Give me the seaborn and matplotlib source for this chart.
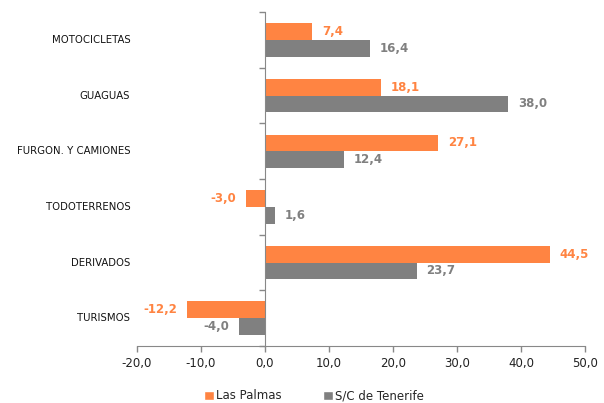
import pandas as pd
import matplotlib
matplotlib.use('Agg')
import matplotlib.pyplot as plt
from matplotlib.ticker import FuncFormatter, FixedLocator
from matplotlib.patches import Patch
import seaborn as sns

categories = ['MOTOCICLETAS', 'GUAGUAS', 'FURGON. Y CAMIONES',
              'TODOTERRENOS', 'DERIVADOS', 'TURISMOS']
las_palmas = [7.4, 18.1, 27.1, -3.0, 44.5, -12.2]
tenerife = [16.4, 38.0, 12.4, 1.6, 23.7, -4.0]
series = ['Las Palmas', 'S/C de Tenerife']
colors = ['#FF8442', '#808080']

df = pd.DataFrame({
    'categoria': categories * 2,
    'valor': las_palmas + tenerife,
    'serie': [series[0]] * len(categories) + [series[1]] * len(categories),
})


def coma(v, pos=None):
    return f'{v:.1f}'.replace('.', ',')


sns.set_style('white')
plt.rcParams['font.family'] = ['DejaVu Sans']
plt.rcParams['axes.unicode_minus'] = False

fig = plt.figure(figsize=(6.04, 4.03), dpi=100)
ax = fig.add_axes([0.2268, 0.1414, 0.7417, 0.8286])

sns.barplot(data=df, x='valor', y='categoria', hue='serie', order=categories,
            hue_order=series, palette=colors, orient='h', width=0.6,
            saturation=1, legend=False, linewidth=0, ax=ax)

for container, col in zip(ax.containers, colors):
    ax.bar_label(container, labels=[coma(b.get_width()) for b in container],
                 padding=7, color=col, fontsize=8.5, fontweight='bold')

ax.set_xlim(-20, 50)
ax.set_ylim(len(categories) - 0.5, -0.5)
ax.xaxis.set_major_locator(FixedLocator(range(-20, 51, 10)))
ax.xaxis.set_major_formatter(FuncFormatter(coma))
ax.set_xlabel('')
ax.set_ylabel('')

for s in ['top', 'right']:
    ax.spines[s].set_visible(False)
ax.spines['left'].set_position(('data', 0))
ax.spines['left'].set_color('#888888')
ax.spines['bottom'].set_color('#888888')

ax.set_yticks(range(len(categories)))
ax.set_yticklabels([])
ax.set_yticks([i - 0.5 for i in range(len(categories) + 1)], minor=True)
ax.tick_params(axis='y', which='major', length=0)
ax.tick_params(axis='y', which='minor', left=True, length=4, width=1,
               color='#888888', direction='out')
ax.tick_params(axis='x', bottom=True, length=4, width=1, color='#888888',
               direction='out', labelsize=8.5, labelcolor='#222222', pad=4)

trans = ax.get_yaxis_transform()
for i, cat in enumerate(categories):
    ax.text(-0.015, i, cat, transform=trans, ha='right', va='center',
            fontsize=7.3, color='#111111')

handles = [Patch(facecolor=c, label=s) for c, s in zip(colors, series)]
fig.legend(handles=handles, loc='lower center', bbox_to_anchor=(0.52, -0.025),
           ncol=2, frameon=False, fontsize=8.5, handlelength=0.8,
           handleheight=0.8, handletextpad=0.2, columnspacing=3.5)

fig.savefig('out.png', dpi=100)
